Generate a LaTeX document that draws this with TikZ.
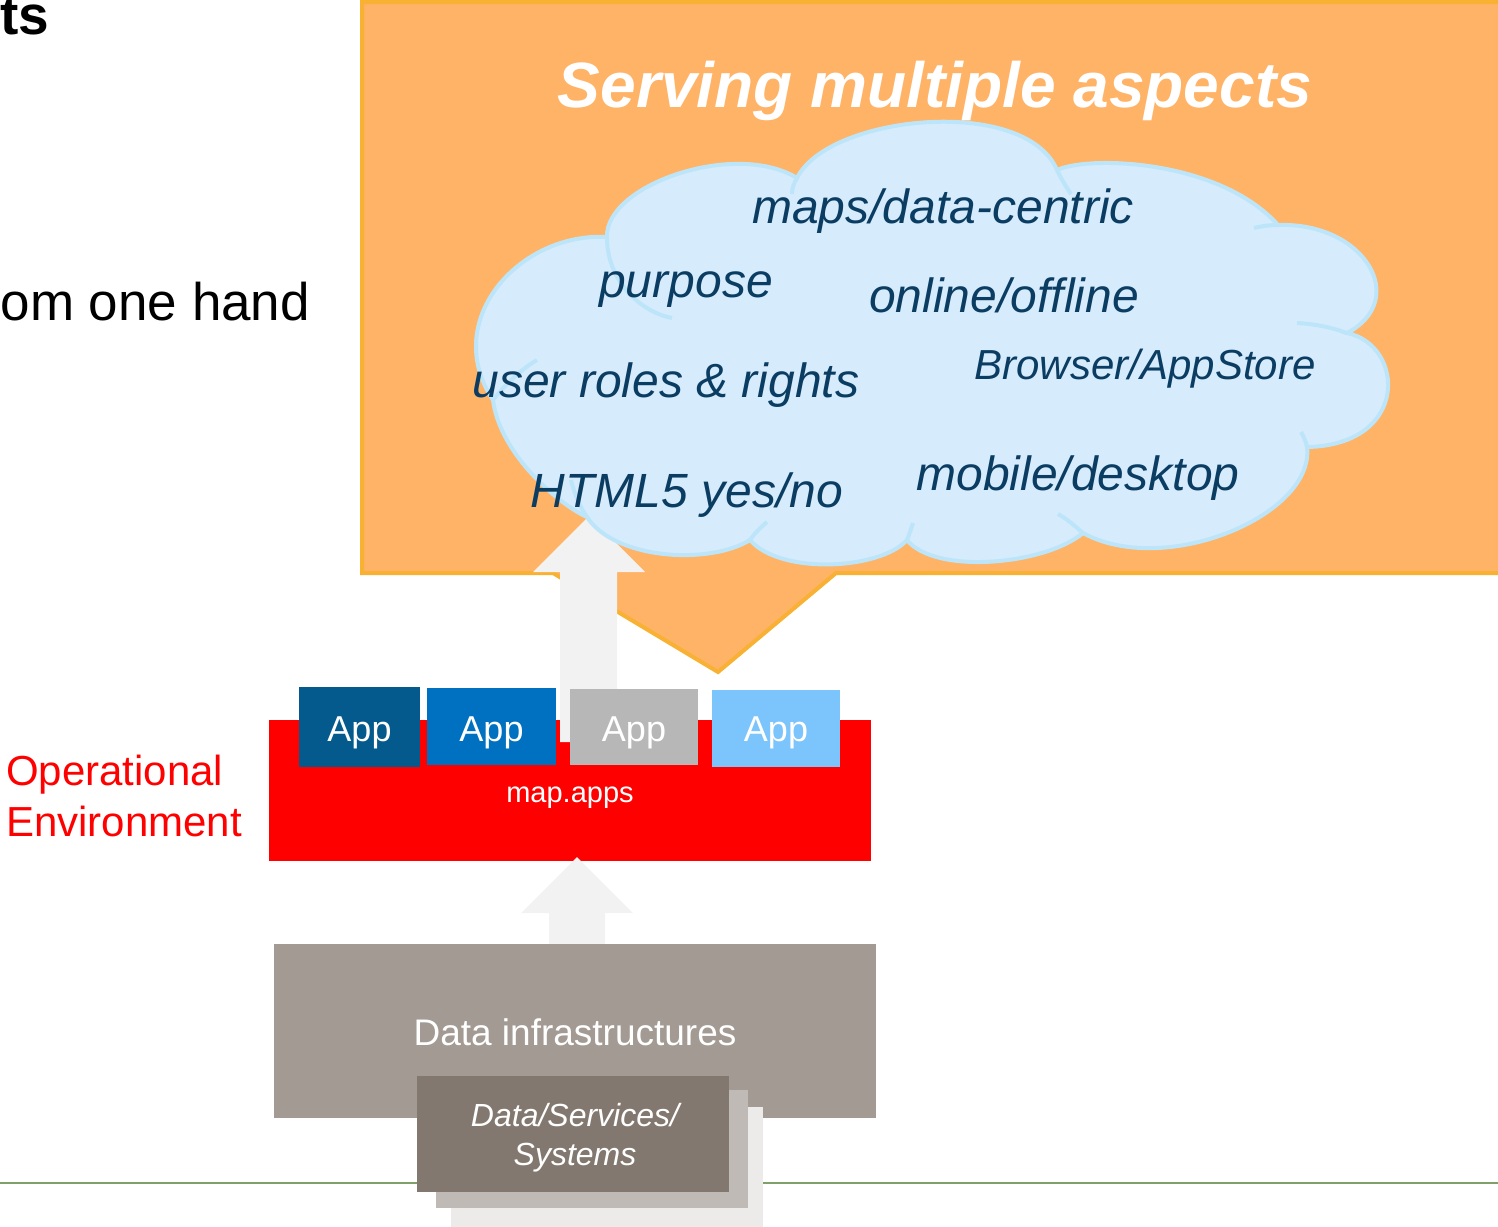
\documentclass[tikz,border=0pt]{standalone}
\usepackage{fontspec}
\setmainfont{Liberation Sans}
\definecolor{calloutfill}{HTML}{FFB366}
\definecolor{calloutline}{HTML}{F8B133}
\definecolor{cloudfill}{HTML}{D6EBFC}
\definecolor{cloudline}{HTML}{BDE5FA}
\definecolor{cloudtext}{HTML}{0B3D63}
\definecolor{arrowgrey}{HTML}{F2F2F2}
\definecolor{appA}{HTML}{045A8D}
\definecolor{appB}{HTML}{0070C0}
\definecolor{appC}{HTML}{B7B7B7}
\definecolor{appD}{HTML}{7CC4FC}
\definecolor{infra}{HTML}{A29A93}
\definecolor{stackA}{HTML}{82786F}
\definecolor{stackB}{HTML}{BFBAB5}
\definecolor{stackC}{HTML}{EDEBE9}
\definecolor{groundline}{HTML}{7FA06A}
\begin{document}
\begin{tikzpicture}[x=1pt,y=-1pt,
  plainbox/.style={draw=none, inner sep=0pt, outer sep=0pt, anchor=north west},
  lbl/.style={inner sep=0pt, outer sep=0pt, anchor=base},
  cloudtxt/.style={lbl, text=cloudtext, font=\fontsize{48}{48}\selectfont\itshape},
  cloudedge/.style={draw=cloudline, line width=4pt},
  blockarrow/.style={fill=arrowgrey, draw=none}]
\useasboundingbox (0,0) rectangle (1498,1226);

% left side texts
\node[inner sep=0pt, outer sep=0pt, anchor=base east, font=\fontsize{55}{55}\selectfont\bfseries] (ts) at (49,34) {ts};
\node[inner sep=0pt, outer sep=0pt, anchor=base east, font=\fontsize{53}{53}\selectfont] (hand) at (310,320) {om one hand};
\node[inner sep=0pt, outer sep=0pt, anchor=base west, text=red, font=\fontsize{42}{42}\selectfont] (opA) at (6,785) {Operational};
\node[inner sep=0pt, outer sep=0pt, anchor=base west, text=red, font=\fontsize{42}{42}\selectfont] (opB) at (6,836) {Environment};

% callout
\path[fill=calloutfill, draw=calloutline, line width=4pt, line join=miter]
  (362,2) -- (1510,2) -- (1510,573) -- (836,573) -- (718,672) -- (553,573) -- (362,573) -- cycle;

% map.apps platform
\node[plainbox, fill=red, minimum width=602pt, minimum height=141pt] (env) at (269,720) {};

% upper block arrow
\fill[blockarrow] (560,742) -- (560,572) -- (533,572) -- (589,516) -- (645,572) -- (617,572) -- (617,742) -- cycle;

% apps
\node[plainbox, fill=appA, minimum width=121pt, minimum height=80pt] (app1) at (299,687) {};
\node[plainbox, fill=appB, minimum width=129pt, minimum height=77pt] (app2) at (427,688) {};
\node[plainbox, fill=appC, minimum width=128pt, minimum height=76pt] (app3) at (570,689) {};
\node[plainbox, fill=appD, minimum width=128pt, minimum height=77pt] (app4) at (712,690) {};
\node[lbl, text=white, font=\fontsize{36}{36}\selectfont] (t1) at (359.5,741) {App};
\node[lbl, text=white, font=\fontsize{36}{36}\selectfont] (t2) at (491.5,741) {App};
\node[lbl, text=white, font=\fontsize{36}{36}\selectfont] (t3) at (634,741) {App};
\node[lbl, text=white, font=\fontsize{36}{36}\selectfont] (t4) at (776,741) {App};
\node[lbl, text=white, font=\fontsize{29}{29}\selectfont] (mapapps) at (570,802) {map.apps};

% lower block arrow
\fill[blockarrow] (549,944) -- (549,913) -- (521,913) -- (577,857) -- (633,913) -- (605,913) -- (605,944) -- cycle;

% data infrastructures
\node[plainbox, fill=infra, minimum width=602pt, minimum height=174pt] (infra) at (274,944) {};
\node[lbl, text=white, font=\fontsize{37}{37}\selectfont] (infratxt) at (575,1045) {Data infrastructures};

% ground line
\coordinate (gl) at (0,1183);
\coordinate (gr) at (1498,1183);
\draw[groundline, line width=2pt] (gl) -- (gr);

% stacked data boxes
\node[plainbox, fill=stackC, minimum width=312pt, minimum height=120pt] (stk3) at (451,1107) {};
\node[plainbox, fill=stackB, minimum width=312pt, minimum height=118pt] (stk2) at (436,1090) {};
\node[plainbox, fill=stackA, minimum width=312pt, minimum height=116pt] (stk1) at (417,1076) {};
\node[lbl, text=white, font=\fontsize{32}{32}\selectfont\itshape] (dssA) at (575,1126) {Data/Services/};
\node[lbl, text=white, font=\fontsize{32}{32}\selectfont\itshape] (dssB) at (575,1165) {Systems};

% cloud
\path[cloudedge, fill=cloudfill, line join=miter]
  (493,400) .. controls (440,320) and (520,232) .. (607,237)
  .. controls (605,185) and (735,140) .. (797,178)
  .. controls (828,115) and (1025,95) .. (1057,170)
  .. controls (1090,155) and (1220,160) .. (1278,225)
  .. controls (1365,222) and (1410,300) .. (1347,333)
  .. controls (1405,345) and (1410,445) .. (1307,447)
  .. controls (1315,515) and (1165,578) .. (1083,533)
  .. controls (1045,565) and (935,575) .. (907,540)
  .. controls (880,570) and (780,575) .. (750,540)
  .. controls (710,565) and (615,560) .. (587,517)
  .. controls (560,505) and (500,455) .. (493,400) -- cycle;
\draw[cloudedge] (607,238) .. controls (607,280) and (640,312) .. (672,318);
\draw[cloudedge] (797,178) .. controls (794,183) and (792,188) .. (792,194);
\draw[cloudedge] (1057,170) .. controls (1062,180) and (1066,187) .. (1071,194);
\draw[cloudedge] (1278,225) .. controls (1270,225) and (1262,226) .. (1254,228);
\draw[cloudedge] (1347,333) .. controls (1330,327) and (1315,324) .. (1297,323);
\draw[cloudedge] (1307,447) .. controls (1306,442) and (1304,437) .. (1301,432);
\draw[cloudedge] (1083,533) .. controls (1075,526) and (1067,519) .. (1058,514);
\draw[cloudedge] (907,540) .. controls (909,535) and (911,529) .. (913,523);
\draw[cloudedge] (750,540) .. controls (755,533) and (761,527) .. (767,522);
\draw[cloudedge] (587,517) .. controls (580,507) and (574,493) .. (571,480);
\draw[cloudedge] (493,400) .. controls (505,385) and (520,370) .. (537,360);

% cloud texts
\node[cloudtxt] (c1) at (943,223) {maps/data-centric};
\node[cloudtxt] (c2) at (686,297) {purpose};
\node[cloudtxt] (c3) at (1004,312) {online/offline};
\node[cloudtxt] (c4) at (666,397) {user roles \& rights};
\node[cloudtxt, font=\fontsize{42}{42}\selectfont\itshape] (c5) at (1145,379) {Browser/AppStore};
\node[cloudtxt] (c6) at (687,507) {HTML5 yes/no};
\node[cloudtxt] (c7) at (1078,490) {mobile/desktop};

% title
\node[lbl, text=white, font=\fontsize{64}{64}\selectfont\bfseries\itshape] (title) at (935,107) {Serving multiple aspects};
\end{tikzpicture}
\end{document}
